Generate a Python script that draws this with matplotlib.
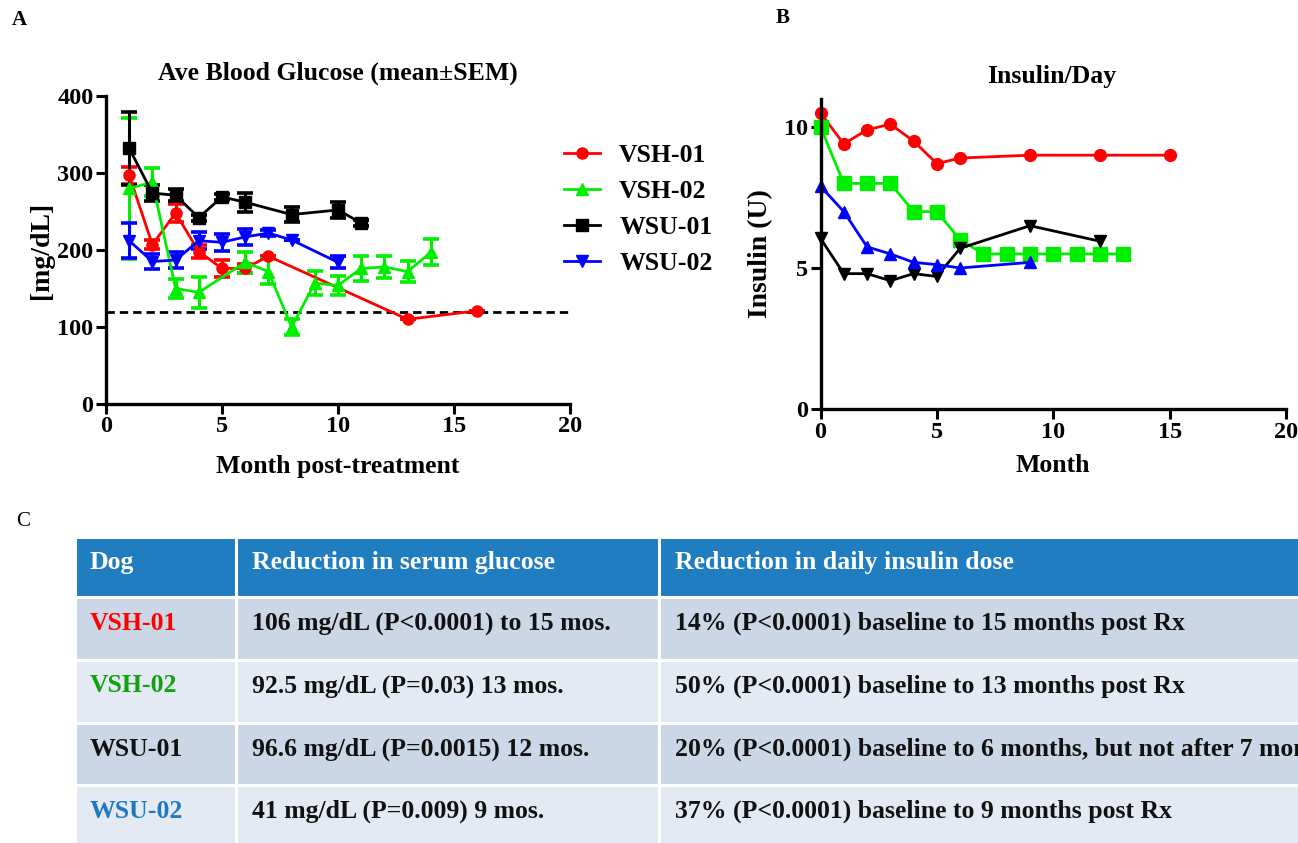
import matplotlib
matplotlib.use("Agg")
import matplotlib.pyplot as plt
from matplotlib.patches import Rectangle

plt.rcParams["font.family"] = ["Liberation Serif", "DejaVu Serif"]
plt.rcParams["font.weight"] = "bold"

# ---- Panel A: blood glucose (mean +/- SEM) ----
DOGS = ["VSH-01", "VSH-02", "WSU-01", "WSU-02"]

VSH01_M = [1, 2, 3, 4, 5, 6, 7, 13, 16]
VSH01_G = [297, 207, 248, 198, 176, 176, 192, 110, 121]
VSH01_E = [11, 6, 12, 8, 11, 6, 0, 0, 0]

VSH02_M = [1, 2, 3, 4, 6, 7, 8, 9, 10, 11, 12, 13, 14]
VSH02_G = [280, 288, 150, 145, 184, 172, 100, 157, 154, 176, 178, 172, 197]
VSH02_E = [92, 18, 12, 20, 14, 16, 10, 16, 12, 16, 14, 14, 17]

WSU01_M = [1, 2, 3, 4, 5, 6, 8, 10, 11]
WSU01_G = [332, 274, 271, 242, 269, 262, 246, 252, 235]
WSU01_E = [47, 10, 8, 4, 4, 12, 10, 10, 4]

WSU02_M = [1, 2, 3, 4, 5, 6, 7, 8, 10]
WSU02_G = [212, 185, 187, 212, 210, 217, 222, 213, 184]
WSU02_E = [23, 10, 10, 11, 11, 10, 4, 0, 8]

TARGET = 120

# ---- Panel B: insulin per day ----
INS_VSH01_M = [0, 1, 2, 3, 4, 5, 6, 9, 12, 15]
INS_VSH01 = [10.5, 9.4, 9.9, 10.1, 9.5, 8.7, 8.9, 9.0, 9.0, 9.0]
INS_VSH02_M = [0, 1, 2, 3, 4, 5, 6, 7, 8, 9, 10, 11, 12, 13]
INS_VSH02 = [10.0, 8.0, 8.0, 8.0, 7.0, 7.0, 6.0, 5.5, 5.5, 5.5, 5.5, 5.5, 5.5, 5.5]
INS_WSU01_M = [0, 1, 2, 3, 4, 5, 6, 9, 12]
INS_WSU01 = [6.05, 4.8, 4.8, 4.55, 4.8, 4.7, 5.7, 6.5, 5.95]
INS_WSU02_M = [0, 1, 2, 3, 4, 5, 6, 9]
INS_WSU02 = [7.9, 7.0, 5.75, 5.5, 5.2, 5.12, 5.0, 5.2]

# ---- Panel C: table ----
HEADERS = ["Dog", "Reduction in serum glucose", "Reduction in daily insulin dose"]
GLUCOSE_TXT = ["106 mg/dL (P<0.0001) to 15 mos.",
               "92.5 mg/dL (P=0.03) 13 mos.",
               "96.6 mg/dL (P=0.0015) 12 mos.",
               "41 mg/dL (P=0.009) 9 mos."]
INSULIN_TXT = ["14% (P<0.0001) baseline to 15 months post Rx",
               "50% (P<0.0001) baseline to 13 months post Rx",
               "20% (P<0.0001) baseline to 6 months, but not after 7 months",
               "37% (P<0.0001) baseline to 9 months post Rx"]
DOG_TXT_COLORS = ["#ff0000", "#10a010", "#111111", "#1f78c0"]

W, H = 1298, 843
fig = plt.figure(figsize=(W / 100, H / 100), dpi=100)
fig.patch.set_facecolor("white")

FS = 18.5


def fx(px):
    return px / W


def fy(py):
    return 1 - py / H


def style_axes(ax):
    for s in ["top", "right"]:
        ax.spines[s].set_visible(False)
    for s in ["left", "bottom"]:
        ax.spines[s].set_linewidth(2.4)
    ax.tick_params(width=2.2, length=7, labelsize=17.5, pad=2)
    for lab in ax.get_xticklabels() + ax.get_yticklabels():
        lab.set_fontweight("bold")


# Panel A
axA = fig.add_axes([fx(106), fy(404), fx(570 - 106), (404 - 96) / H])
series_a = [
    (VSH01_M, VSH01_G, VSH01_E, "#ff0000", "o", 8),
    (VSH02_M, VSH02_G, VSH02_E, "#00ee00", "^", 8),
    (WSU01_M, WSU01_G, WSU01_E, "#000000", "s", 8),
    (WSU02_M, WSU02_G, WSU02_E, "#0000ff", "v", 8),
]
for (m, g, e, c, mk, ms), name in zip(series_a, DOGS):
    axA.errorbar(m, g, yerr=e, color=c, marker=mk, markersize=ms, lw=2,
                 elinewidth=2.2, capsize=5.5, capthick=2.6, label=name,
                 clip_on=False)
axA.axhline(TARGET, color="black", lw=2, ls=(0, (3, 1.8)))
axA.set_xlim(0, 20)
axA.set_ylim(0, 400)
axA.set_xticks([0, 5, 10, 15, 20])
axA.set_yticks([0, 100, 200, 300, 400])
style_axes(axA)
axA.set_xlabel("Month post-treatment", fontsize=FS, fontweight="bold")
axA.xaxis.set_label_coords(0.5, (404 - 466) / 308)
axA.xaxis.label.set_va("center")
axA.set_ylabel("[mg/dL]", fontsize=20, fontweight="bold")
axA.yaxis.set_label_coords((42 - 106) / 464, 0.5)
axA.yaxis.label.set_va("center")
fig.text(fx(338), fy(73), "Ave Blood Glucose (mean\u00b1SEM)", fontsize=FS,
         fontweight="bold", ha="center", va="center")

handles, labels = axA.get_legend_handles_labels()
handles = [h[0] for h in handles]
fig.legend(handles, labels, loc="upper left",
           bbox_to_anchor=(fx(564), fy(144)), frameon=False,
           prop={"family": "Liberation Serif", "weight": "bold", "size": FS},
           handlelength=1.4, labelspacing=0.5, handletextpad=0.75,
           borderpad=0, borderaxespad=0)

# Panel B
axB = fig.add_axes([fx(820.5), fy(409), fx(1286 - 820.5), (409 - 98.8) / H])
series_b = [
    (INS_VSH01_M, INS_VSH01, "#ff0000", "o", 8.5),
    (INS_VSH02_M, INS_VSH02, "#00ee00", "s", 10),
    (INS_WSU01_M, INS_WSU01, "#000000", "v", 8),
    (INS_WSU02_M, INS_WSU02, "#0000ff", "^", 8.5),
]
for m, v, c, mk, ms in series_b:
    axB.plot(m, v, color=c, marker=mk, markersize=ms, lw=2, clip_on=False)
axB.set_xlim(0, 20)
axB.set_ylim(0, 11)
axB.set_xticks([0, 5, 10, 15, 20])
axB.set_yticks([0, 5, 10])
style_axes(axB)
axB.set_xlabel("Month", fontsize=FS, fontweight="bold")
axB.xaxis.set_label_coords(0.5, (409 - 466) / 310.2)
axB.xaxis.label.set_va("center")
axB.set_ylabel("Insulin (U)", fontsize=20, fontweight="bold")
axB.yaxis.set_label_coords((761 - 820.5) / 465.5, 0.5)
axB.yaxis.label.set_va("center")
fig.text(fx(1052), fy(77), "Insulin/Day", fontsize=FS, fontweight="bold",
         ha="center", va="center")

# Panel letters
fig.text(fx(12), fy(20), "A", fontsize=15, fontweight="bold", va="center")
fig.text(fx(776), fy(18), "B", fontsize=15, fontweight="bold", va="center")
fig.text(fx(16), fy(521), "C", fontsize=15, fontweight="normal", va="center")

# Panel C table
col_x = [75, 236, 659, 1420]
row_y = [537, 597, 660, 723, 785, 846]
header_color = "#1f7dc0"
row_colors = ["#cbd7e7", "#e4eaf3", "#cbd7e7", "#e4eaf3"]
for r in range(5):
    for c in range(3):
        x0, x1 = col_x[c], col_x[c + 1]
        y0, y1 = row_y[r], row_y[r + 1]
        color = header_color if r == 0 else row_colors[r - 1]
        fig.patches.append(Rectangle((fx(x0), fy(y1)), fx(x1 - x0), (y1 - y0) / H,
                                     transform=fig.transFigure, facecolor=color,
                                     edgecolor="white", lw=2.2))
pad = [15, 16, 16]
for c, htxt in enumerate(HEADERS):
    fig.text(fx(col_x[c] + pad[c]), fy(row_y[0] + 25), htxt, color="white",
             fontsize=FS, fontweight="bold", va="center")
for r in range(4):
    yc = fy(row_y[r + 1] + 26)
    fig.text(fx(col_x[0] + pad[0]), yc, DOGS[r], color=DOG_TXT_COLORS[r],
             fontsize=FS, fontweight="bold", va="center")
    fig.text(fx(col_x[1] + pad[1]), yc, GLUCOSE_TXT[r], color="#111111",
             fontsize=FS, fontweight="bold", va="center")
    fig.text(fx(col_x[2] + pad[2]), yc, INSULIN_TXT[r], color="#111111",
             fontsize=FS, fontweight="bold", va="center")

fig.savefig("out.png", dpi=100)
